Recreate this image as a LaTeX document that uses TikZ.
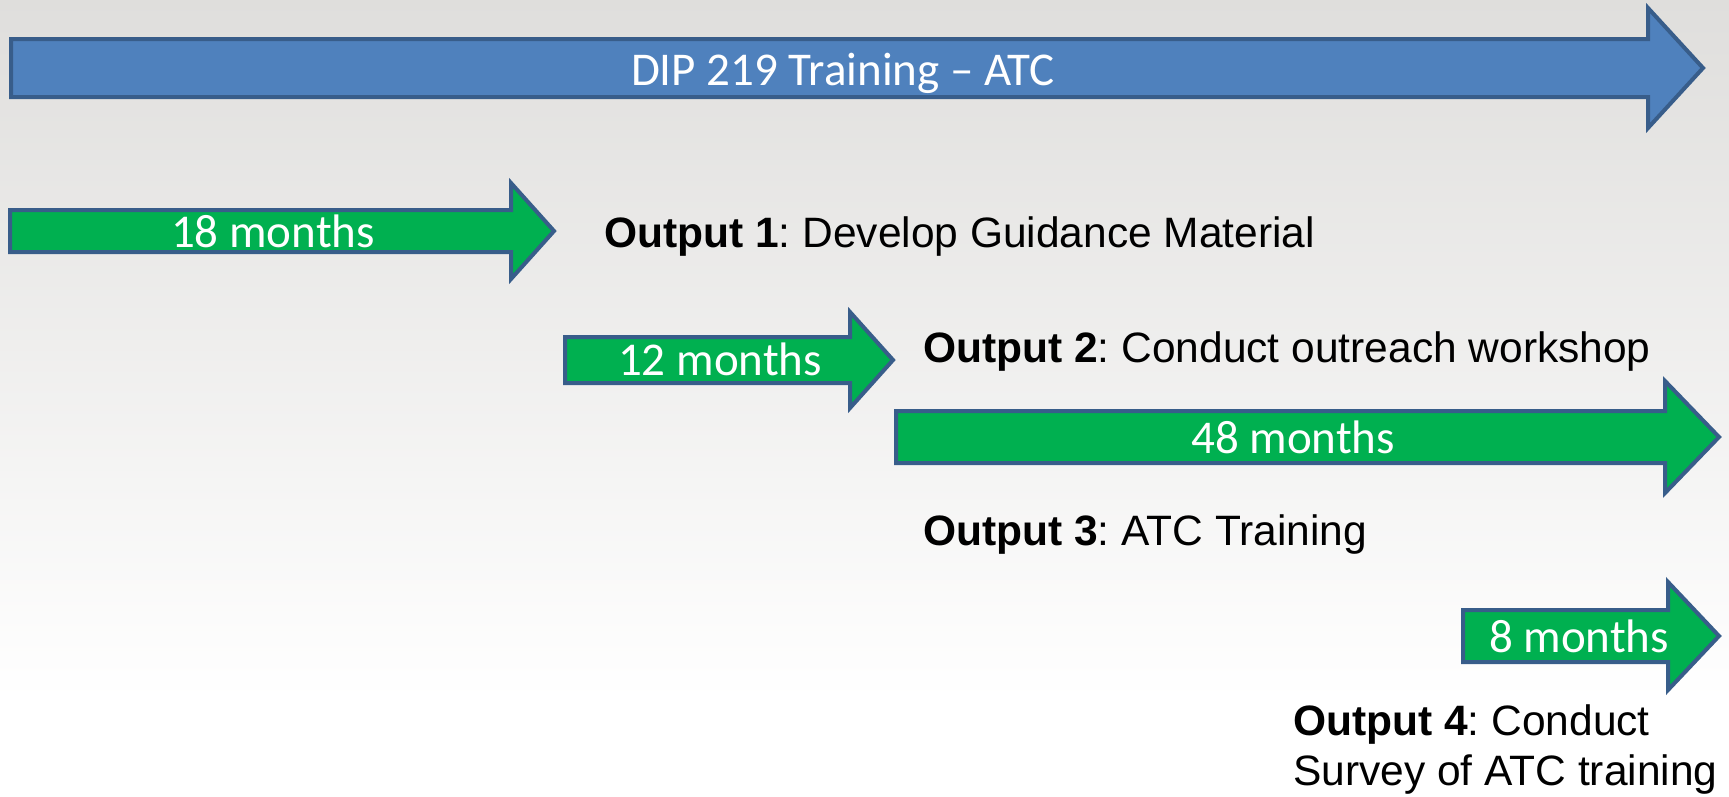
\documentclass[tikz,border=0pt]{standalone}
\usepackage{fontspec}
\setmainfont{Liberation Sans}
\newfontfamily\calibfont{Carlito}
\usetikzlibrary{shadings}
\definecolor{bgtop}{RGB}{223,222,220}
\definecolor{arrowblue}{RGB}{79,129,189}
\definecolor{arrowedge}{RGB}{56,93,138}
\definecolor{arrowgreen}{RGB}{0,176,80}
\tikzset{
  blockarrow/.style={draw=arrowedge, line width=4pt, line join=miter},
  months/.style={text=white, anchor=base, inner sep=0pt,
    font=\calibfont\fontsize{47}{56}\selectfont},
  output/.style={text=black, anchor=base west, inner sep=0pt, align=left,
    font=\fontsize{42.5}{50}\selectfont\frenchspacing}
}

\begin{document}
\begin{tikzpicture}[x=1pt,y=-1pt]

% Background, grey at the top fading to white
\useasboundingbox (0,0) rectangle (1729,796);
\fill [white] (0,0) rectangle (1729,796);
\shade [top color=bgtop, bottom color=white] (0,0) rectangle (1729,700);

% Whole programme
\draw [blockarrow, fill=arrowblue] (11,39) -- (1648,39) -- (1648,8) --
   (1703,68) -- (1648,128) -- (1648,97) -- (11,97) -- cycle;
\node [months] (dip) at (843,85) {DIP 219 Training – ATC};

% Output 1, 18 months
\draw [blockarrow, fill=arrowgreen] (10,210) -- (511,210) -- (511,183) --
   (554,231) -- (511,279) -- (511,252) -- (10,252) -- cycle;
\node [months] (m18) at (273,247) {18 months};
\node [output] (out1) at (604,247) {\textbf{Output 1}: Develop Guidance Material};

% Output 2, 12 months
\draw [blockarrow, fill=arrowgreen] (565,337) -- (850,337) -- (850,312) --
   (893,360) -- (850,408) -- (850,383) -- (565,383) -- cycle;
\node [months] (m12) at (720,375) {12 months};
\node [output] (out2) at (923,362) {\textbf{Output 2}: Conduct outreach workshop};

% Output 3, 48 months
\draw [blockarrow, fill=arrowgreen] (896,411) -- (1665,411) -- (1665,381) --
   (1719,437) -- (1665,493) -- (1665,463) -- (896,463) -- cycle;
\node [months] (m48) at (1293,453) {48 months};
\node [output] (out3) at (923,545) {\textbf{Output 3}: ATC Training};

% Output 4, 8 months (base is the second line)
\draw [blockarrow, fill=arrowgreen] (1463,610) -- (1668,610) -- (1668,582) --
   (1719,636) -- (1668,690) -- (1668,662) -- (1463,662) -- cycle;
\node [months] (m8) at (1579,652) {8 months};
\node [output] (out4) at (1293,785) {\textbf{Output 4}: Conduct\\Survey of ATC training};

\end{tikzpicture}
\end{document}
